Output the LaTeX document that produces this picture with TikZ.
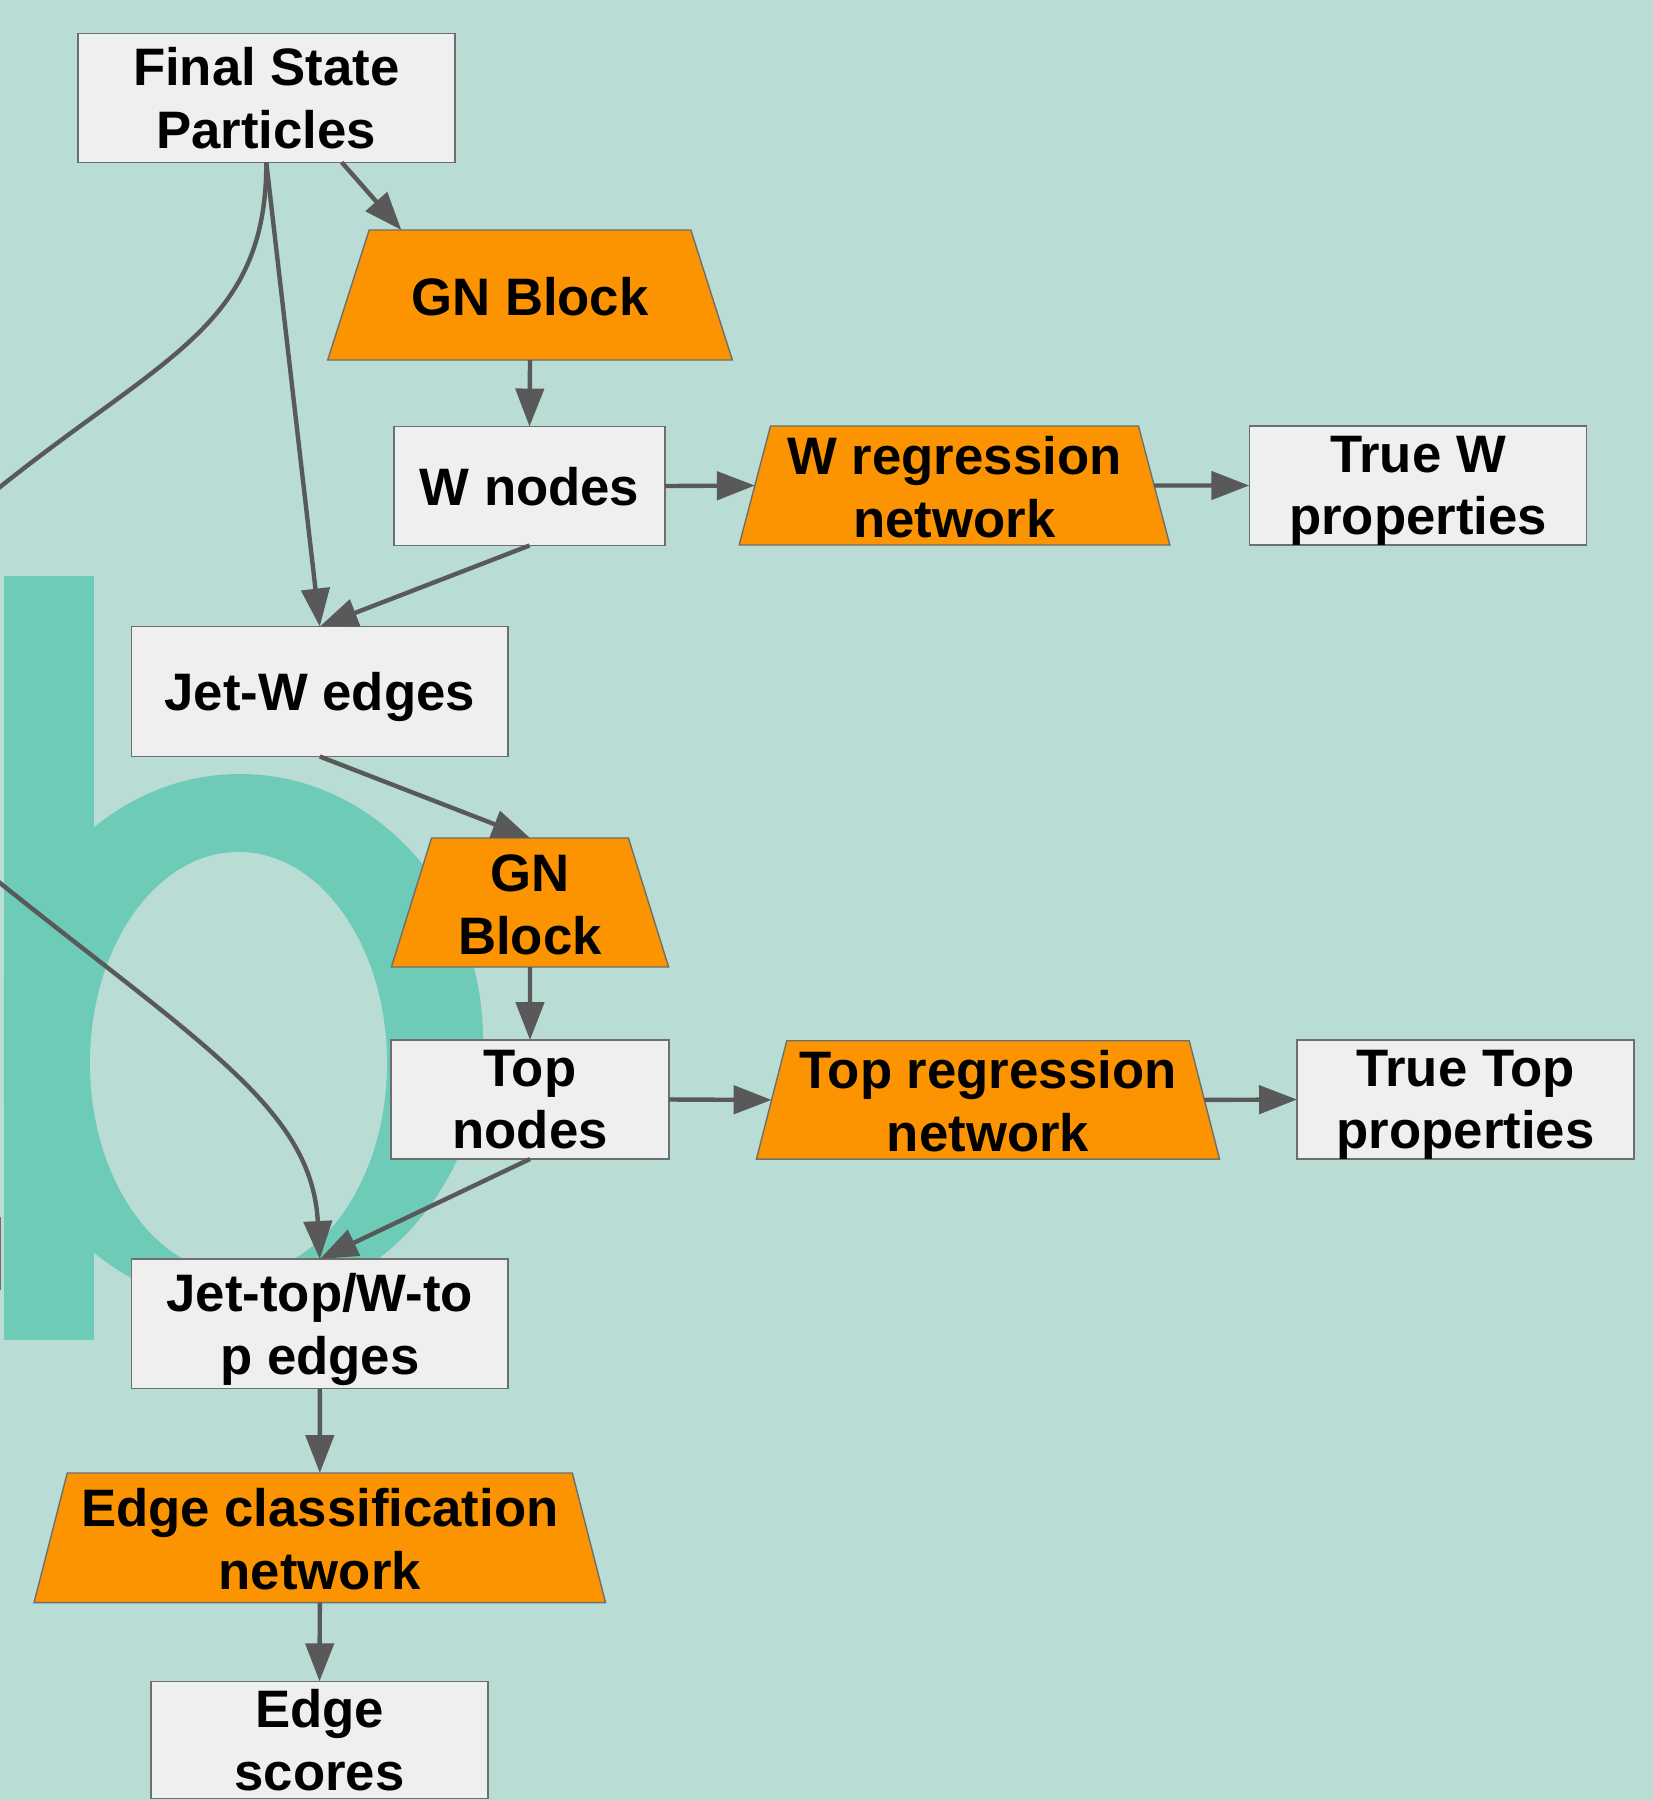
\documentclass[tikz,border=0pt]{standalone}
\usepackage{fontspec}
\setmainfont{Liberation Sans}
\usetikzlibrary{shapes.geometric,arrows.meta,calc}

\definecolor{hgrund}{HTML}{B9DCD5}
\definecolor{wasser}{HTML}{6ECBB8}
\definecolor{kastengrau}{HTML}{EFEFEF}
\definecolor{rahmen}{HTML}{6E6E6E}
\definecolor{netzorange}{HTML}{FB9400}
\definecolor{pfeilgrau}{HTML}{595959}

\begin{document}
\begin{tikzpicture}[
        knoten/.style={draw=rahmen, line width=0.4pt, fill=kastengrau, align=center,
                inner sep=2pt, outer sep=0pt, text depth=0pt,
                font=\bfseries\fontsize{15}{17.8}\selectfont},
        netz/.style={trapezium, trapezium left angle=76, trapezium right angle=76,
                trapezium stretches=true, draw=rahmen, line width=0.4pt, fill=netzorange,
                align=center, inner xsep=2pt, outer sep=0pt,
                font=\bfseries\fontsize{15}{17.8}\selectfont},
        zeile1/.style={text height=0.40cm, text depth=0pt},
        zeile2/.style={text height=1.03cm, text depth=0pt},
        pfeil/.style={draw=pfeilgrau, line width=1.25pt, -{Triangle[length=10.8pt,width=8pt]}}
    ]
        % Hintergrund
        \useasboundingbox (0,0) rectangle (16.53,-18);
        \clip (0,0) rectangle (16.53,-18);
        \fill[hgrund] (0,0) rectangle (16.53,-18);

        % Wasserzeichen "b"
        \fill[wasser] (0.04,-5.76) rectangle (0.94,-13.40);
        \begin{scope}
            \clip (0.04,-7) rectangle (6,-14);
            \fill[wasser] (2.40,-10.40) ellipse (2.43 and 2.66);
        \end{scope}
        \fill[hgrund] (2.385,-10.63) ellipse (1.485 and 2.11);
        \draw[rahmen, line width=0.4pt] (0.005,-12.17) -- (0.005,-12.90);

        % Knoten
        \node[knoten, minimum width=3.77cm, minimum height=1.285cm] (fsp) at (2.663,-0.98) {Final State\\Particles};
        \node[netz, zeile1, inner ysep=0.45cm, minimum width=4.055cm, minimum height=1.30cm] (gn1) at (5.30,-2.95) {GN Block};
        \node[knoten, minimum width=2.71cm, minimum height=1.19cm] (wn) at (5.295,-4.86) {W nodes};
        \node[netz, zeile2, inner ysep=0.08cm, minimum width=4.31cm, minimum height=1.19cm] (wr) at (9.545,-4.855) {W regression\\network};
        \node[knoten, minimum width=3.375cm, minimum height=1.19cm] (tw) at (14.18,-4.855) {True W\\properties};
        \node[knoten, minimum width=3.764cm, minimum height=1.30cm] (jw) at (3.198,-6.915) {Jet-W edges};
        \node[netz, zeile2, inner ysep=0.13cm, minimum width=2.78cm, minimum height=1.29cm] (gn2) at (5.30,-9.025) {GN\\Block};
        \node[knoten, minimum width=2.78cm, minimum height=1.19cm] (tn) at (5.30,-10.995) {Top\\nodes};
        \node[netz, zeile2, inner ysep=0.076cm, minimum width=4.64cm, minimum height=1.183cm] (tr) at (9.88,-10.999) {Top regression\\network};
        \node[knoten, minimum width=3.37cm, minimum height=1.19cm] (tt) at (14.655,-10.995) {True Top\\properties};
        \node[knoten, minimum width=3.764cm, minimum height=1.296cm] (jt) at (3.198,-13.238) {Jet-top/W-to\\p edges};
        \node[netz, zeile2, inner ysep=0.133cm, minimum width=5.716cm, minimum height=1.296cm] (ec) at (3.198,-15.378) {Edge classification\\network};
        \node[knoten, minimum width=3.37cm, minimum height=1.174cm] (es) at (3.195,-17.40) {Edge\\scores};

        % Pfeile
        \draw[pfeil] ($(fsp.south west)!0.70!(fsp.south east)$) -- ($(gn1.top left corner)!0.10!(gn1.top right corner)$);
        \draw[pfeil] (fsp.south) -- (jw.north);
        \draw[pfeil] (gn1.south) -- (wn.north);
        \draw[pfeil] (wn.east) -- (wr.west);
        \draw[pfeil] (wr.east) -- (tw.west);
        \draw[pfeil] (wn.south) -- (jw.north);
        \draw[pfeil] (jw.south) -- (gn2.north);
        \draw[pfeil] (gn2.south) -- (tn.north);
        \draw[pfeil] (tn.east) -- (tr.west);
        \draw[pfeil] (tr.east) -- (tt.west);
        \draw[pfeil] (tn.south) -- (jt.north);
        \draw[pfeil] (jt.south) -- (ec.north);
        \draw[pfeil] (ec.south) -- (es.north);

        % Bogen links herum
        \draw[pfeil] (fsp.south) .. controls (2.667,-3.25) and (1.65,-3.55) .. (0,-4.87)
            .. controls (-1.56,-6.12) and (-1.56,-7.58) .. (0,-8.83)
            .. controls (2.03,-10.455) and (3.12,-11.10) .. (jt.north);

    \end{tikzpicture}
\end{document}
